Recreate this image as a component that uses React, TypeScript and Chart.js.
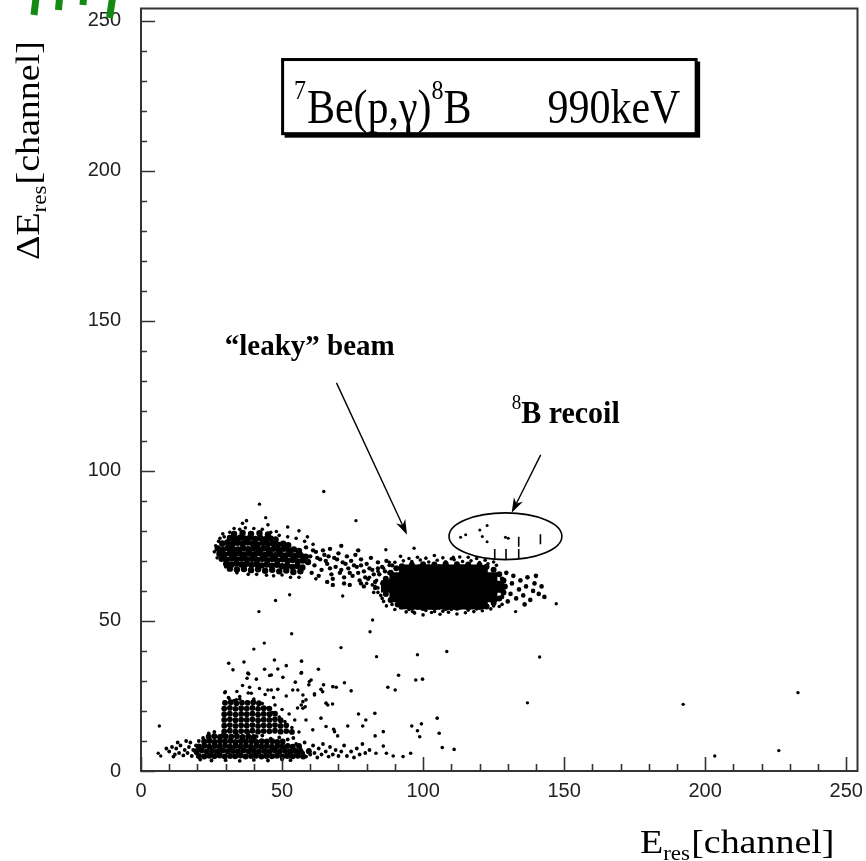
import React, { useEffect, useRef } from "react";
import { Chart, registerables } from "chart.js";

Chart.register(...registerables);

type P = [number, number];

// axis range (channels)
const axisMin = 0;
const axisMax = 254;
const tickStep = 50;

// dense core of the main "leaky" beam blob (solid region)
const beamCore: P[] = [
  [93.6, 66.8], [97, 66.8], [100.4, 66.9], [103.8, 66.8], [107.2, 66.9], [110.6, 66.8], [114, 66.9], [117.4, 66.8], [120.8, 66.6],
  [90.2, 64.2], [93.6, 64.2], [97, 64.2], [100.4, 64.2], [103.8, 64.2], [107.2, 64.2], [110.6, 64.2], [114, 64.2], [117.4, 64.2], [120.8, 64.2], [124.2, 64.2],
  [87.2, 61.5], [90.2, 61.2], [93.6, 61.2], [97, 61.2], [100.4, 61.2], [103.8, 61.2], [107.2, 61.2], [110.6, 61.2], [114, 61.2], [117.4, 61.2], [120.8, 61.2], [124.2, 61.2], [126.6, 61.4],
  [90.2, 58.2], [93.6, 58.2], [97, 58.2], [100.4, 58.2], [103.8, 58.2], [107.2, 58.2], [110.6, 58.2], [114, 58.2], [117.4, 58.2], [120.8, 58.2], [124.2, 58.2],
  [93.6, 55.9], [97, 55.8], [100.4, 55.8], [103.8, 55.7], [107.2, 55.8], [110.6, 55.7], [114, 55.8], [117.4, 55.8], [120.8, 56],
];

// rounded rim of the blob
const beamRing: P[] = [
  [86.5, 61.5], [86.8, 64], [86.8, 59], [88.5, 66], [88.5, 57], [90.5, 67.5], [91, 55.5], [92.5, 68.2], [92.5, 54.8],
  [122.5, 68], [122.5, 54.8], [125, 67], [125, 56], [127, 65.5], [127, 57.5], [128.5, 63.5], [128.5, 59.5], [129, 61.5],
  [96, 68.7], [100, 68.9], [104, 68.8], [108, 69], [112, 68.9], [116, 68.8], [120, 68.6],
  [96, 54.5], [100, 54.3], [104, 54.5], [108, 54.3], [112, 54.4], [116, 54.5], [120, 54.6],
];

// fuzzy outer edge of the blob
const beamEdge: P[] = [
  [88, 68.5], [90, 69.5], [93, 70], [96, 69.8], [99, 70.3], [102, 69.6], [105, 70.2], [108, 69.7], [111, 70.4], [114, 69.8], [117, 70], [120, 69.4], [123, 69], [126, 68.5], [92, 71.5], [104, 71.8], [116, 71.2],
  [95, 70.8], [98, 71.2], [101, 70.9], [107, 71], [110, 70.7], [113, 71.3], [119, 70.8], [122, 70.2], [125, 69.6],
  [89, 55.5], [92, 54.5], [95, 53.8], [98, 54.2], [101, 53.5], [104, 54], [107, 53.2], [110, 53.8], [113, 54.3], [116, 53.6], [119, 54], [122, 54.5], [125, 55], [128, 55.5], [100, 52], [112, 52.3],
  [94, 53], [97, 52.6], [103, 52.8], [106, 52.2], [109, 52.9], [115, 52.7], [118, 53.1], [121, 53.4], [124, 54], [127, 54.8], [90, 53.8], [87, 55],
  [84, 61], [83.5, 63.5], [84.5, 65.5], [85, 58.5], [86, 56.5], [82, 62], [81, 64.5], [82.5, 59.5], [80, 62.5], [85.5, 57.5], [84, 59.5], [83, 61.5], [84, 66.5], [86, 67.5], [88, 69.5],
];

// right-hand tail of the blob
const beamTail: P[] = [
  [128, 58], [128.5, 61], [128, 64], [129.5, 66], [130, 56.5], [131, 59], [131.5, 62.5], [132, 65], [133, 57.5], [134, 60.5], [134.5, 63.5],
  [135.5, 58.5], [136.5, 61.5], [137, 64.5], [138, 57], [139, 60], [139.5, 62.5], [141, 59], [142, 61.5], [140, 65], [136, 55.5], [143, 58],
];

// upper-left band, dense part
const bandCore: P[] = [
  [33, 79], [36, 79.3], [39, 79], [42, 79.2], [45, 78.8],
  [31.5, 77.6], [33.3, 77.3], [35.1, 77.7], [36.9, 77.4], [38.7, 77.8], [40.5, 77.3], [42.3, 77.6], [44.1, 77.2], [45.9, 77.5], [47.7, 77.1],
  [28.8, 75.8], [30.6, 76.1], [32.4, 75.6], [34.2, 76], [36, 75.7], [37.8, 76.1], [39.6, 75.8], [41.4, 75.5], [43.2, 76], [45, 75.6], [46.8, 75.9], [48.6, 75.4], [50.4, 75.7], [52.2, 75.2],
  [27.2, 74.1], [29, 73.8], [30.8, 74.3], [32.6, 74], [34.4, 73.8], [36.2, 74.2], [38, 73.9], [39.8, 74.2], [41.6, 73.8], [43.4, 74.1], [45.2, 73.7], [47, 74], [48.8, 73.6], [50.6, 74], [52.4, 73.5], [54.2, 73.8], [56, 73.3],
  [27.8, 72.4], [29.6, 72.1], [31.4, 72.5], [33.2, 72.2], [35, 72.5], [36.8, 72.1], [38.6, 72.4], [40.4, 72.2], [42.2, 72.5], [44, 72], [45.8, 72.3], [47.6, 71.9], [49.4, 72.3], [51.2, 71.8], [53, 72.1], [54.8, 71.6], [56.6, 71.9], [58.4, 71.4],
  [28.6, 70.7], [30.4, 70.4], [32.2, 70.8], [34, 70.5], [35.8, 70.8], [37.6, 70.4], [39.4, 70.7], [41.2, 70.3], [43, 70.7], [44.8, 70.2], [46.6, 70.6], [48.4, 70.1], [50.2, 70.5], [52, 70], [53.8, 70.3], [55.6, 69.8], [57.4, 70.1], [59.2, 69.6],
  [30.2, 69], [32, 68.7], [33.8, 69.1], [35.6, 68.8], [37.4, 69], [39.2, 68.6], [41, 68.9], [42.8, 68.5], [44.6, 68.8], [46.4, 68.4], [48.2, 68.7], [50, 68.2], [51.8, 68.5], [53.6, 68], [55.4, 68.3], [57.2, 67.8],
  [31.5, 67.4], [34, 67.1], [36.5, 67.3], [39, 66.9], [41.5, 67.2], [44, 66.7], [46.5, 67], [49, 66.5], [51.5, 66.8], [54, 66.3], [56.5, 66.5],
];

// speckled lighter part of the band joining the blob
const bandLight: P[] = [
  [62, 73], [63.5, 70.5], [64, 67], [65, 72], [66, 69], [67, 74], [67.5, 65.5], [68.5, 71], [69, 68], [70, 72.5], [70.5, 66], [71.5, 69.5],
  [72, 64.5], [73, 71.5], [73.5, 67.5], [74.5, 70], [75, 65], [76, 72], [76.5, 68], [77.5, 63.5], [78, 70.5], [79, 66.5], [80, 69], [80.5, 64],
  [81.5, 71], [82, 67], [83, 63], [84, 69.5], [84.5, 65.5], [85.5, 68], [86.5, 63.5], [87, 70], [88, 66], [89, 68.5], [66, 63], [74, 62],
  [79, 61.5], [83, 61], [71, 75], [77, 73.5],
  [60.5, 66], [61.5, 68.5], [63, 65], [65.5, 70], [67, 67.5], [68, 64], [69.5, 70.5], [71, 67], [72.5, 69], [74, 66], [75.5, 68.5], [77, 66],
  [78, 68.5], [79.5, 64.5], [81, 67.5], [82.5, 65.5], [84, 67.5], [85.5, 62.5], [86.5, 66.5], [88.5, 63.5], [78, 62.5], [72, 62.5], [68, 62],
  [60, 71.5], [61, 73.5], [58.5, 74.5], [62.5, 71], [64.5, 73.5], [66.5, 71.5],
];

// loose points around the band
const bandSpray: P[] = [
  [26, 73], [26.5, 75], [27, 71], [28, 77.5], [29, 79], [30, 68], [31.5, 79.5], [33, 80.8], [35, 80.5], [37, 81], [38, 65.5], [40, 80.8],
  [41, 65.5], [43, 80.5], [44.5, 65.2], [46, 79.5], [47, 65], [49, 78.5], [50, 65.3], [52, 78], [53, 64.5], [55, 77.5], [56, 64.5], [58, 76.5],
  [59, 78], [61, 75.5], [62, 64], [45, 82], [36, 82.5], [56, 80], [52, 81.3], [37.4, 83.4], [29.5, 78], [27.5, 76.5], [34, 66], [48, 79.8],
];

// lowest band (near zero energy loss), dense part
const lowCore: P[] = [
  [20.5, 5], [22.4, 4.8], [24.2, 5.1], [26, 4.9], [27.9, 5.2], [29.7, 4.8], [31.6, 5], [33.4, 4.9], [35.3, 5.2], [37.1, 4.8], [39, 5], [40.8, 5.1], [42.7, 4.8], [44.5, 5], [46.4, 4.9], [48.2, 5.1], [50.1, 4.8], [51.9, 5], [53.8, 4.9], [55.6, 5.1], [57.5, 4.8],
  [19.6, 6.6], [21.5, 6.8], [23.3, 6.5], [25.2, 6.7], [27, 6.5], [28.9, 6.8], [30.7, 6.6], [32.6, 6.7], [34.4, 6.5], [36.3, 6.8], [38.1, 6.6], [40, 6.7], [41.8, 6.5], [43.7, 6.7], [45.5, 6.5], [47.4, 6.8], [49.2, 6.6], [51.1, 6.7], [52.9, 6.5], [54.8, 6.7], [56.6, 6.5], [59.5, 6.6],
  [20.5, 8.2], [22.4, 8.4], [24.2, 8.1], [26.1, 8.3], [27.9, 8.2], [29.8, 8.4], [31.6, 8.1], [33.5, 8.3], [35.3, 8.2], [37.2, 8.4], [39, 8.1], [40.9, 8.3], [42.7, 8.2], [44.6, 8.3], [46.4, 8.1], [48.3, 8.3], [50.1, 8.2], [52, 8.3], [53.8, 8.1], [56, 8.3],
  [22.4, 9.8], [24.3, 10], [26.1, 9.7], [28, 9.9], [29.8, 9.8], [31.7, 10], [33.5, 9.7], [35.4, 9.9], [37.2, 9.8], [39.1, 9.9], [40.9, 9.7], [42.8, 9.9], [44.6, 9.8], [46.5, 9.9], [48.3, 9.7], [50.2, 9.8],
  [24, 11.4], [26, 11.6], [28, 11.3], [30, 11.5], [32, 11.4], [34, 11.6], [36, 11.3], [38, 11.5], [40, 11.3],
];

const lowSpray: P[] = [
  [10, 6.5], [11, 8], [12, 5.5], [12.5, 7.5], [13.5, 6], [14, 8.5], [15, 5.2], [15.5, 7], [16.5, 6], [17, 8], [17.5, 9.5], [18, 5], [18.5, 7],
  [19.5, 6], [19.5, 8.5], [20.5, 10], [20, 5.5], [13, 9.5], [16, 10], [9, 7.5], [11.5, 4.8],
  [55, 9], [56, 5], [56.5, 7.5], [57.5, 6], [58, 9.5], [58.5, 4.8], [59.5, 7], [60, 5.5], [61, 8.5], [61.5, 6], [62.5, 4.5], [63, 7.5], [64, 5.5],
  [64.5, 9], [65.5, 6.5], [66.5, 4.8], [67, 8], [68, 5.5], [69, 7], [70, 5], [71, 6.5], [72, 8.5], [73, 5], [74.5, 6.5], [75.5, 4.5], [76.5, 7.5],
  [77.5, 5.5], [78.5, 9], [79.5, 6], [81, 7],
  [22, 11], [24, 12.5], [26, 13], [29, 12.2], [38, 12.8], [41, 11.5], [43, 11.8], [46, 10.8], [49, 11.2], [52, 10.5], [54, 11],
  [21, 3.8], [25, 3.5], [30, 3.6], [35, 3.4], [40, 3.7], [45, 3.5], [50, 3.8], [53, 3.6],
];

// middle group (ΔE 13-23)
const midCore: P[] = [
  [29.5, 13.2], [31.5, 13.4], [33.5, 13.1], [35.5, 13.3], [37.5, 13.2], [39.5, 13.4], [41.5, 13.1], [43.5, 13.3], [45.5, 13.2], [47.5, 13.4], [49.5, 13.1], [51.5, 13.3], [53.5, 13],
  [29.5, 15.1], [31.5, 15.3], [33.5, 15], [35.5, 15.2], [37.5, 15.1], [39.5, 15.3], [41.5, 15], [43.5, 15.2], [45.5, 15.1], [47.5, 15.3], [49.5, 15], [51.5, 15.2],
  [29.5, 17], [31.5, 17.2], [33.5, 16.9], [35.5, 17.1], [37.5, 17], [39.5, 17.2], [41.5, 16.9], [43.5, 17.1], [45.5, 17], [47.5, 17.2], [49.5, 16.9],
  [29.5, 18.9], [31.5, 19.1], [33.5, 18.8], [35.5, 19], [37.5, 18.9], [39.5, 19.1], [41.5, 18.8], [43.5, 19], [45.5, 18.9], [47.5, 19.1],
  [29.5, 20.8], [31.5, 21], [33.5, 20.7], [35.5, 20.9], [37.5, 20.8], [39.5, 21], [41.5, 20.7], [43.5, 20.9], [45.5, 20.8],
  [29.8, 22.7], [31.8, 22.9], [33.8, 22.6], [35.8, 22.8], [37.8, 22.7], [39.8, 22.9], [41.8, 22.6],
];

const midSpray: P[] = [
  [29.5, 23], [31, 24.5], [33, 23.5], [35, 24], [37.5, 23], [40, 24], [43, 22.5], [45, 21], [46.5, 19.5], [47.5, 22], [49, 18], [50, 20.5],
  [51, 16.5], [52.5, 19], [53.5, 14.5], [54.5, 17], [55.5, 21], [56, 13], [47, 24.5], [44, 25.5], [38, 26], [34, 26.5], [42, 27.5], [36, 28.5],
  [31.1, 35.9], [32.6, 33.7], [36.5, 36.3], [47.3, 37], [51.5, 35.1], [56.9, 36.6], [62.9, 33.9], [43.8, 33.9], [48.5, 34], [45.6, 31.8],
  [38.2, 32.3], [37.6, 30.9], [40.9, 30.6], [50.3, 31.2], [54.7, 29.6], [56.9, 32.8], [60.3, 30.3], [59.5, 28.7], [64.7, 28.7], [63.8, 27.2],
  [69.2, 27.9], [72.1, 29.4], [74.5, 26.7], [38.5, 27.9], [39.1, 25.9], [46.2, 27], [48.5, 27.2], [51.5, 25], [55.6, 27], [57.4, 25.3],
  [57.4, 23.1], [58.2, 21.4], [61.5, 25.3], [66.2, 22], [67.9, 22.3], [29.7, 26.1], [31.2, 24.2], [77.1, 19], [82.9, 19.2], [79.7, 17],
  [78.6, 15], [73.3, 15], [68.3, 13.9], [69.7, 11.7], [83, 11.7], [85.9, 13.1], [85.9, 8.3], [83.3, 5.9], [87, 5.9], [89.4, 5], [92.9, 4.8],
  [95.6, 5.9], [91.3, 31.9], [87.5, 27.9], [90.1, 27], [97.4, 30.3], [99.8, 30.6], [96, 15], [98, 13.4], [98.8, 11.4], [99.4, 15.7],
  [105, 17.6], [105.7, 12.6], [106.8, 7.8], [111, 7.2], [37.9, 32.6], [46.2, 32], [56.8, 32.6], [59.7, 29.8], [45, 27], [53.8, 27],
  [58.5, 23.7], [61.5, 25.7], [64.4, 26.4], [68, 28.1], [65.6, 22.6], [63.8, 17.6], [56.8, 22], [57.4, 20.9], [65.6, 14.8], [68.6, 13.1],
  [58.5, 17], [60.9, 13.7], [29.9, 26.4], [33.8, 23.7], [35, 24.8],
];

// isolated events
const strayPoints: P[] = [
  [42, 88.9], [44.2, 84.4], [64.8, 93.1], [76.2, 83.4], [96.8, 74.2], [86.8, 73.7], [110.7, 71.2], [47.7, 56.8], [52.7, 58.7], [41.8, 53.1],
  [82.1, 50.3], [81.2, 46.4], [71.5, 58.3], [96.2, 53.1], [132.8, 53.1], [147.2, 55.7], [96.8, 52.9], [104.1, 53.1], [53.4, 45.7], [43.7, 42.6],
  [40, 40.6], [70.9, 41.1], [83.5, 38.1], [98, 38.7], [108.4, 39.8], [141.3, 38], [137, 22.7], [192.2, 22.2], [232.9, 26.1], [203.4, 5],
  [226.1, 6.8], [6.5, 15], [6.1, 5.9], [7, 5],
];

// 8B recoil candidates
const recoilDots: P[] = [
  [113.3, 77.9], [115.1, 78.7], [120.1, 80.3], [122.7, 81.8], [121, 78.1], [122.7, 76.4], [129.2, 77.9], [130.2, 77.5],
];
const recoilDashes: P[] = [
  [133.9, 76.4], [141.6, 77.2], [125.4, 72.3], [129.4, 72.3], [133.9, 72.3],
];

const SANS = "'Liberation Sans', Arial, sans-serif";
const SERIF = "'Liberation Serif', 'Times New Roman', serif";

function mk(data: P[], r: number, style: string = "circle") {
  return {
    data: data.map(([x, y]) => ({ x, y })),
    pointRadius: r,
    pointHoverRadius: r,
    pointStyle: style,
    pointBackgroundColor: "#000",
    pointBorderColor: "#000",
    pointBorderWidth: 0,
    backgroundColor: "#000",
    borderColor: "#000",
    borderWidth: 0,
    showLine: false,
  };
}

function arrow(ctx: CanvasRenderingContext2D, x1: number, y1: number, x2: number, y2: number) {
  const ang = Math.atan2(y2 - y1, x2 - x1);
  const len = 15, hw = 5;
  ctx.beginPath();
  ctx.moveTo(x1, y1);
  ctx.lineTo(x2 - Math.cos(ang) * len * 0.7, y2 - Math.sin(ang) * len * 0.7);
  ctx.lineWidth = 1.4;
  ctx.strokeStyle = "#000";
  ctx.stroke();
  ctx.beginPath();
  ctx.moveTo(x2, y2);
  ctx.lineTo(x2 - Math.cos(ang) * len - Math.sin(ang) * hw, y2 - Math.sin(ang) * len + Math.cos(ang) * hw);
  ctx.lineTo(x2 - Math.cos(ang) * len * 0.7, y2 - Math.sin(ang) * len * 0.7);
  ctx.lineTo(x2 - Math.cos(ang) * len + Math.sin(ang) * hw, y2 - Math.sin(ang) * len - Math.cos(ang) * hw);
  ctx.closePath();
  ctx.fillStyle = "#000";
  ctx.fill();
}

function scaledText(ctx: CanvasRenderingContext2D, text: string, x: number, y: number, font: string, sx: number, sy: number, align: CanvasTextAlign = "left") {
  ctx.save();
  ctx.translate(x, y);
  ctx.scale(sx, sy);
  ctx.font = font;
  ctx.textAlign = align;
  ctx.textBaseline = "alphabetic";
  ctx.fillStyle = "#000";
  ctx.fillText(text, 0, 0);
  const w = ctx.measureText(text).width * sx;
  ctx.restore();
  return w;
}

const decorPlugin = {
  id: "decor",
  afterDraw(chart: any) {
    const ctx: CanvasRenderingContext2D = chart.ctx;
    const xs = chart.scales.x;
    const ys = chart.scales.y;
    const area = chart.chartArea;
    const X = (v: number) => xs.getPixelForValue(v);
    const Y = (v: number) => ys.getPixelForValue(v);
    ctx.save();

    // frame
    ctx.strokeStyle = "#333";
    ctx.lineWidth = 2;
    ctx.strokeRect(area.left, area.top, area.right - area.left, area.bottom - area.top);

    // inward ticks
    ctx.lineWidth = 1.6;
    ctx.beginPath();
    for (let v = 0; v <= 250; v += 10) {
      const major = v % 50 === 0;
      const px = Math.round(X(v)) + 0.5;
      ctx.moveTo(px, area.bottom);
      ctx.lineTo(px, area.bottom - (major ? 14 : 7));
      const py = Math.round(Y(v)) + 0.5;
      ctx.moveTo(area.left, py);
      ctx.lineTo(area.left + (major ? 14 : 6), py);
    }
    ctx.stroke();

    // title box with shadow
    const bx1 = X(50.2), bx2 = X(196.8), by1 = Y(237), by2 = Y(212.3);
    ctx.fillStyle = "#000";
    ctx.fillRect(bx1 + 2, by1 + 2, bx2 - bx1 + 2, by2 - by1 + 2);
    ctx.fillStyle = "#fff";
    ctx.fillRect(bx1, by1, bx2 - bx1, by2 - by1);
    ctx.strokeStyle = "#000";
    ctx.lineWidth = 3;
    ctx.strokeRect(bx1, by1, bx2 - bx1, by2 - by1);

    const base = Y(216);
    let cx = X(54.2);
    cx += scaledText(ctx, "7", cx, base - 24, `24px ${SERIF}`, 1, 1.1);
    cx += scaledText(ctx, "Be(p,γ)", cx + 1, base, `42px ${SERIF}`, 1, 1.15) + 1;
    cx += scaledText(ctx, "8", cx, base - 24, `24px ${SERIF}`, 1, 1.1);
    scaledText(ctx, "B", cx, base, `42px ${SERIF}`, 1, 1.15);
    scaledText(ctx, "990keV", X(191.2), base, `42px ${SERIF}`, 1, 1.15, "right");

    // leaky beam label + arrow
    scaledText(ctx, "\u201Cleaky\u201D beam", X(29.7), Y(138.7), `bold 29px ${SERIF}`, 1, 1.05);
    arrow(ctx, X(69.3), Y(129.3), X(94.3), Y(78.7));

    // recoil label + arrow + ellipse
    const rw = scaledText(ctx, "8", X(131.4), Y(120.5), `19px ${SERIF}`, 1, 1.1);
    scaledText(ctx, "B recoil", X(131.4) + rw, Y(116), `bold 30px ${SERIF}`, 1, 1.05);
    arrow(ctx, X(141.7), Y(105.3), X(131.4), Y(86));
    ctx.beginPath();
    const ecx = X(129.2), ecy = Y(78.2);
    ctx.ellipse(ecx, ecy, X(149.2) - ecx, ecy - Y(86), 0, 0, Math.PI * 2);
    ctx.lineWidth = 1.6;
    ctx.strokeStyle = "#000";
    ctx.stroke();

    // y axis title (rotated)
    ctx.save();
    ctx.translate(39, 260);
    ctx.rotate(-Math.PI / 2);
    ctx.scale(1.15, 1);
    ctx.fillStyle = "#000";
    ctx.textBaseline = "alphabetic";
    ctx.font = `33px ${SERIF}`;
    ctx.fillText("ΔE", 0, 0);
    let w = ctx.measureText("ΔE").width;
    ctx.font = `20px ${SERIF}`;
    ctx.fillText("res", w, 7);
    w += ctx.measureText("res").width + 1;
    ctx.font = `33px ${SERIF}`;
    ctx.fillText("[channel]", w, 0);
    ctx.restore();

    // x axis title
    ctx.save();
    ctx.translate(640, 853);
    ctx.scale(1.15, 1.05);
    ctx.fillStyle = "#000";
    ctx.font = `33px ${SERIF}`;
    ctx.fillText("E", 0, 0);
    w = ctx.measureText("E").width;
    ctx.font = `20px ${SERIF}`;
    ctx.fillText("res", w, 7);
    w += ctx.measureText("res").width + 1;
    ctx.font = `33px ${SERIF}`;
    ctx.fillText("[channel]", w, 0);
    ctx.restore();

    // green marks at top-left corner
    ctx.strokeStyle = "#138a13";
    ctx.lineWidth = 7;
    ctx.lineCap = "butt";
    const marks = [[36, 0, 34, 15], [59.5, 0, 58.5, 10], [83.5, 0, 83, 5], [112.5, 0, 109.5, 18]];
    ctx.beginPath();
    for (const [a, b, c, d] of marks) {
      ctx.moveTo(a, b - 2);
      ctx.lineTo(c, d);
    }
    ctx.stroke();

    ctx.restore();
  },
};

export default function App() {
  const ref = useRef<HTMLCanvasElement | null>(null);
  useEffect(() => {
    if (!ref.current) return;
    const dashes = {
      data: recoilDashes.map(([x, y]) => ({ x, y })),
      pointStyle: "line",
      rotation: 90,
      pointRadius: 5,
      borderColor: "#000",
      pointBorderColor: "#000",
      pointBorderWidth: 1.6,
      borderWidth: 1.6,
      showLine: false,
    };
    const chart = new Chart(ref.current, {
      type: "scatter",
      data: {
        datasets: [
          mk(beamCore, 8.5, "rect"),
          mk(beamRing, 3),
          mk(beamEdge, 1.8),
          mk(beamTail, 2.3),
          mk(bandCore, 3.2),
          mk(bandLight, 2.2),
          mk(bandSpray, 1.8),
          mk(lowCore, 3),
          mk(lowSpray, 1.9),
          mk(midCore, 2.9),
          mk(midSpray, 1.8),
          mk(strayPoints, 1.7),
          mk(recoilDots, 1.5),
          dashes as any,
        ],
      },
      options: {
        animation: false,
        responsive: false,
        devicePixelRatio: 1,
        events: [],
        layout: { padding: { left: 0, top: 8, right: 6, bottom: 0 } },
        plugins: { legend: { display: false }, tooltip: { enabled: false } },
        scales: {
          x: {
            type: "linear",
            min: axisMin,
            max: axisMax,
            grid: { display: false, drawTicks: false },
            border: { display: false },
            ticks: {
              stepSize: tickStep,
              includeBounds: false,
              padding: 8,
              color: "#222",
              font: { family: SANS, size: 20 },
              maxRotation: 0,
            },
            afterFit: (s: any) => {
              s.height = 90;
              s.paddingLeft = 0;
              s.paddingRight = 0;
            },
          },
          y: {
            type: "linear",
            min: axisMin,
            max: axisMax,
            grid: { display: false, drawTicks: false },
            border: { display: false },
            ticks: {
              stepSize: tickStep,
              includeBounds: false,
              padding: 20,
              color: "#222",
              font: { family: SANS, size: 20 },
            },
            afterFit: (s: any) => {
              s.width = 141;
              s.paddingTop = 0;
              s.paddingBottom = 0;
            },
          },
        },
      },
      plugins: [decorPlugin],
    });
    return () => chart.destroy();
  }, []);
  return (
    <div>
      <canvas ref={ref} width={866} height={861} style={{ position: "absolute", left: 0, top: 0, width: 866, height: 861 }} />
    </div>
  );
}
